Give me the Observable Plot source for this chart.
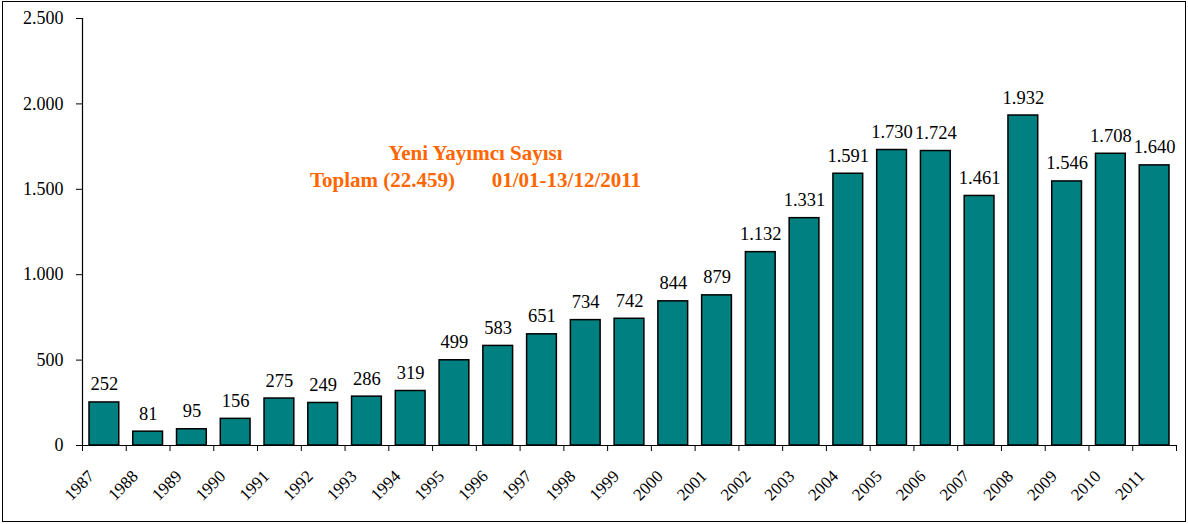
<!DOCTYPE html>
<html>
<head>
<meta charset="utf-8">
<script src="https://cdn.jsdelivr.net/npm/d3@7"></script>
<script src="https://cdn.jsdelivr.net/npm/@observablehq/plot@0.6"></script>
<style>
  html, body { margin: 0; padding: 0; background: #fff; }
  #wrap { position: relative; width: 1188px; height: 524px; }
  #frame { position: absolute; left: 2px; top: 1px; width: 1182px; height: 519px; border: 1.5px solid #000; pointer-events: none; }
  svg { font-family: "Liberation Serif", "Times New Roman", serif; }
</style>
</head>
<body>
<div id="wrap"><div id="frame"></div></div>
<script>
const years = ["1987","1988","1989","1990","1991","1992","1993","1994","1995","1996","1997","1998","1999","2000","2001","2002","2003","2004","2005","2006","2007","2008","2009","2010","2011"];
const values = [252, 81, 95, 156, 275, 249, 286, 319, 499, 583, 651, 734, 742, 844, 879, 1132, 1331, 1591, 1730, 1724, 1461, 1932, 1546, 1708, 1640];
const yTicks = [0, 500, 1000, 1500, 2000, 2500];
const titleLines = ["Yeni Yayımcı Sayısı", "Toplam (22.459)\u00a0\u00a0\u00a0\u00a0\u00a0\u00a0\u00a001/01-13/12/2011"];

const fmt = d3.formatLocale({decimal: ",", thousands: ".", grouping: [3], currency: ["", ""]}).format(",d");
const data = years.map((year, i) => ({year, i, value: values[i]}));
const boundaries = d3.range(years.length + 1);

const chart = Plot.plot({
  width: 1188,
  height: 524,
  marginLeft: 82,
  marginRight: 12,
  marginTop: 18,
  marginBottom: 79,
  style: {fontFamily: "'Liberation Serif', 'Times New Roman', serif", background: "transparent"},
  x: {type: "linear", domain: [0, years.length], axis: null},
  y: {domain: [0, 2500], axis: null},
  marks: [
    Plot.rectY(data, {x1: d => d.i, x2: d => d.i + 1, y: "value", fill: "#008080", stroke: "#000", strokeWidth: 1.5, insetLeft: 7, insetRight: 7}),
    Plot.axisY({ticks: yTicks, tickFormat: fmt, label: null, tickSize: 6, tickPadding: 13, fontSize: 18, stroke: "#000", color: "#000"}),
    Plot.ruleX([0], {stroke: "#000", strokeWidth: 1.2}),
    Plot.ruleY([0], {stroke: "#000", strokeWidth: 1.2}),
    Plot.axisX({ticks: boundaries, tickFormat: () => "", label: null, tickSize: 6, stroke: "#000"}),
    Plot.text(data, {x: d => d.i + 0.5, y: 0, text: "year", rotate: -45, textAnchor: "end", dx: -13, dy: 28, fontSize: 17, fill: "#000"}),
    Plot.text(data, {x: d => d.i + 0.5, y: "value", text: d => fmt(d.value), lineAnchor: "bottom", dy: -12, fontSize: 18.5, fill: "#000"}),
    Plot.text([titleLines.join("\n")], {frameAnchor: "top", dx: -154, dy: 122, lineHeight: 1.29, fontSize: 21, fontWeight: "bold", fill: "#FF6600", lineAnchor: "top"})
  ]
});
document.getElementById("wrap").prepend(chart);
</script>
</body>
</html>
